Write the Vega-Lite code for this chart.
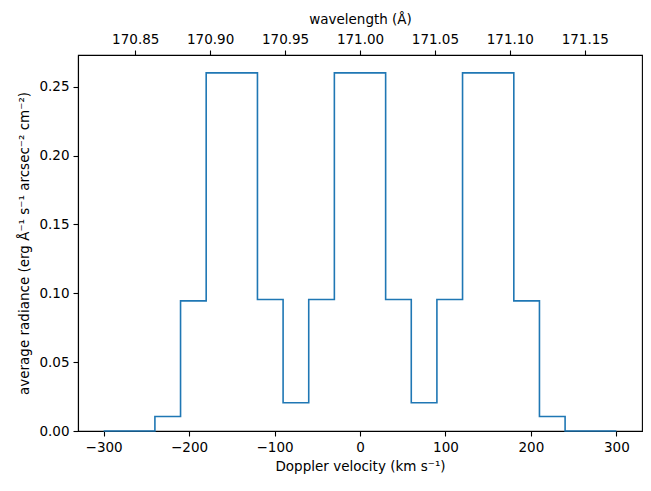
{
  "$schema": "https://vega.github.io/schema/vega-lite/v6.json",
  "autosize": {"type": "none"},
  "width": 564,
  "height": 376,
  "padding": {"left": 78, "top": 55, "right": 9, "bottom": 60},
  "background": "white",
  "config": {
    "font": "DejaVu Sans",
    "view": {"stroke": "black", "strokeWidth": 1.1},
    "axis": {
      "grid": false,
      "domainColor": "black",
      "domainWidth": 1.1,
      "tickColor": "black",
      "tickWidth": 1.1,
      "tickSize": 5,
      "labelFont": "DejaVu Sans",
      "labelFontSize": 13.5,
      "labelColor": "black",
      "labelPadding": 4,
      "titleFont": "DejaVu Sans",
      "titleFontSize": 13.5,
      "titleFontWeight": "normal",
      "titleColor": "black"
    }
  },
  "layer": [
    {
      "data": {
        "values": [
          {"velocity": -300, "radiance": 0},
          {"velocity": -240, "radiance": 0.0105},
          {"velocity": -210, "radiance": 0.0945},
          {"velocity": -180, "radiance": 0.26},
          {"velocity": -120, "radiance": 0.0955},
          {"velocity": -90, "radiance": 0.0205},
          {"velocity": -60, "radiance": 0.0955},
          {"velocity": -30, "radiance": 0.26},
          {"velocity": 30, "radiance": 0.0955},
          {"velocity": 60, "radiance": 0.0205},
          {"velocity": 90, "radiance": 0.0955},
          {"velocity": 120, "radiance": 0.26},
          {"velocity": 180, "radiance": 0.0945},
          {"velocity": 210, "radiance": 0.0105},
          {"velocity": 240, "radiance": 0},
          {"velocity": 300, "radiance": 0}
        ]
      },
      "mark": {"type": "line", "interpolate": "step-after", "color": "#1f77b4", "strokeWidth": 1.6},
      "encoding": {
        "x": {
          "field": "velocity",
          "type": "quantitative",
          "scale": {"domain": [-330, 330], "nice": false, "zero": false},
          "axis": {
            "orient": "bottom",
            "values": [-300, -200, -100, 0, 100, 200, 300],
            "format": "d",
            "title": "Doppler velocity (km s⁻¹)",
            "titlePadding": 6
          }
        },
        "y": {
          "field": "radiance",
          "type": "quantitative",
          "scale": {"domain": [0, 0.273], "nice": false},
          "axis": {
            "values": [0, 0.05, 0.1, 0.15, 0.2, 0.25],
            "format": ".2f",
            "title": "average radiance (erg Å⁻¹ s⁻¹ arcsec⁻² cm⁻²)",
            "titlePadding": 7
          }
        }
      }
    },
    {
      "data": {"values": [{"wavelength": 170.8288}, {"wavelength": 171.1712}]},
      "mark": {"type": "rule", "opacity": 0},
      "encoding": {
        "x": {
          "field": "wavelength",
          "type": "quantitative",
          "scale": {"domain": [170.8118, 171.1882], "nice": false, "zero": false},
          "axis": {
            "orient": "top",
            "values": [170.85, 170.9, 170.95, 171.0, 171.05, 171.1, 171.15],
            "format": ".2f",
            "title": "wavelength (Å)",
            "titlePadding": 6
          }
        }
      }
    }
  ],
  "resolve": {"scale": {"x": "independent"}, "axis": {"x": "independent"}}
}
